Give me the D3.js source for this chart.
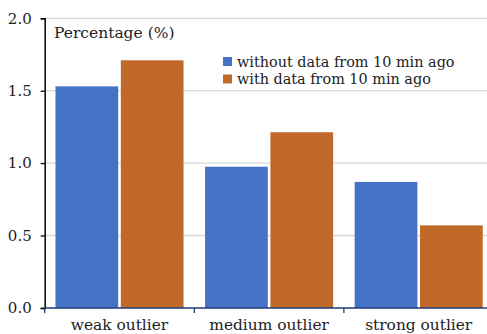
<!DOCTYPE html>
<html><head><meta charset="utf-8">
<script src="https://cdn.jsdelivr.net/npm/d3@7"></script>
<style>body{margin:0;background:#fff}svg{display:block}text{font-family:"DejaVu Serif",serif;fill:#222}</style>
</head><body><svg id="c" width="487" height="334"></svg>
<script>
const categories = ["weak outlier", "medium outlier", "strong outlier"];
const seriesNames = ["without data from 10 min ago", "with data from 10 min ago"];
const withoutData = [1.53, 0.975, 0.87];
const withData = [1.71, 1.213, 0.57];
const yTicks = [0, 0.5, 1.0, 1.5, 2.0];
const colors = ["#4472c4", "#c0692a"];

(function () {
const svg = d3.select("#c");
const mLeft = 44.7, mRight = 44.7 + 3 * 149.6, mTop = 18.3, mBottom = 307.9;
const y = d3.scaleLinear().domain([0, 2]).range([mBottom, mTop]);
const x0 = d3.scaleBand().domain(categories).range([mLeft, mRight]).paddingInner(0.144).paddingOuter(0.072);
const x1 = d3.scaleBand().domain(seriesNames).range([0, x0.bandwidth()]).paddingInner(0.04);
const series = [withoutData, withData];

svg.append("g").selectAll("line").data(yTicks.filter(d => d > 0)).join("line")
  .attr("x1", mLeft).attr("x2", 487).attr("y1", d => y(d)).attr("y2", d => y(d))
  .attr("stroke", "#d9d9d9").attr("stroke-width", 1.3);

categories.forEach((c, i) => {
  series.forEach((s, j) => {
    svg.append("rect")
      .attr("x", x0(c) + x1(seriesNames[j]))
      .attr("y", y(s[i]))
      .attr("width", x1.bandwidth())
      .attr("height", y(0) - y(s[i]))
      .attr("fill", colors[j]);
  });
});

const yAxis = d3.axisLeft(y).tickValues(yTicks).tickFormat(d3.format(".1f")).tickSize(4).tickPadding(9);
const ya = svg.append("g").attr("transform", `translate(${mLeft},0)`).call(yAxis);
ya.select(".domain").attr("stroke", "#000").attr("stroke-width", 1.5);
ya.selectAll(".tick line").attr("stroke", "#000").attr("stroke-width", 1.3);
ya.selectAll(".tick text").style("font-family", "DejaVu Serif").style("font-size", "15px").attr("fill", "#222");

const xb = d3.scaleLinear().domain([0, 3]).range([mLeft, mRight]);
const xa = svg.append("g").attr("transform", `translate(0,${mBottom})`);
xa.append("line").attr("x1", mLeft).attr("x2", 487).attr("y1", 0).attr("y2", 0).attr("stroke", "#1f3a78").attr("stroke-width", 1.5);
xa.selectAll("line.t").data([0, 1, 2, 3]).join("line").attr("class", "t")
  .attr("x1", d => xb(d)).attr("x2", d => xb(d)).attr("y1", 0).attr("y2", 5).attr("stroke", "#1f3a78").attr("stroke-width", 1.3);
xa.selectAll("text").data(categories).join("text")
  .attr("x", d => x0(d) + x0.bandwidth() / 2).attr("y", 22.5)
  .attr("text-anchor", "middle").style("font-size", "15.4px").text(d => d);

svg.append("text").attr("x", 54).attr("y", 38).style("font-size", "15.5px").text("Percentage (%)");

const lg = svg.append("g");
seriesNames.forEach((n, j) => {
  lg.append("rect").attr("x", 223).attr("y", 57 + j * 17.5).attr("width", 9).attr("height", 9).attr("fill", colors[j]);
  lg.append("text").attr("x", 237).attr("y", 66.5 + j * 17.5).style("font-size", "14.4px").text(n);
});
})();
</script></body></html>
